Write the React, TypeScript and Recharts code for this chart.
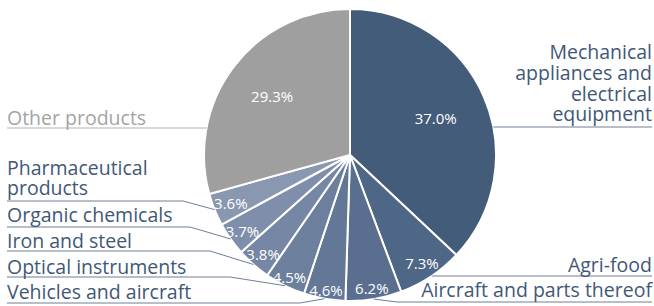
import React from 'react';
import { PieChart, Pie, Cell } from 'recharts';

const categories = [
  'Mechanical appliances and electrical equipment',
  'Agri-food',
  'Aircraft and parts thereof',
  'Vehicles and aircraft',
  'Optical instruments',
  'Iron and steel',
  'Organic chemicals',
  'Pharmaceutical products',
  'Other products',
];

const shares = [37.0, 7.3, 6.2, 4.6, 4.5, 3.8, 3.7, 3.6, 29.3];

const SLICE_COLORS = [
  '#435c7a', '#4f6787', '#5a6f8f', '#637897', '#6c809e',
  '#7687a5', '#7f8fab', '#8a97b1', '#9f9f9f',
];

const TEXT_BLUE = '#3f5877';
const LINE_BLUE = '#6f7f96';

// label placement per slice (same order as categories)
const LABEL_LAYOUT = [
  { lines: ['Mechanical', 'appliances and', 'electrical', 'equipment'], side: 'right', baselines: [59, 80, 101, 121], lineY: 127, elbowX: null, pctR: 0.64 },
  { lines: ['Agri-food'], side: 'right', baselines: [272], lineY: 276, elbowX: null, pctR: 0.89 },
  { lines: ['Aircraft and parts thereof'], side: 'right', baselines: [297], lineY: 302, elbowX: 397, pctR: 0.92 },
  { lines: ['Vehicles and aircraft'], side: 'left', baselines: [299], lineY: 303, elbowX: 300, pctR: 0.94 },
  { lines: ['Optical instruments'], side: 'left', baselines: [274], lineY: 277, elbowX: 230, pctR: 0.93 },
  { lines: ['Iron and steel'], side: 'left', baselines: [248], lineY: 251, elbowX: 210, pctR: 0.9 },
  { lines: ['Organic chemicals'], side: 'left', baselines: [222], lineY: 227, elbowX: 190, pctR: 0.9 },
  { lines: ['Pharmaceutical', 'products'], side: 'left', baselines: [175, 195], lineY: 201, elbowX: 183, pctR: 0.88 },
  { lines: ['Other products'], side: 'left', baselines: [125], lineY: 128, elbowX: null, pctR: 0.67, grey: true },
];

const data = categories.map((name, i) => ({ name, value: shares[i] }));

const RAD = Math.PI / 180;
const FONT = '"Open Sans", sans-serif';

const renderLabel = (props: any) => {
  const { cx, cy, midAngle, outerRadius, index, value } = props;
  const lay = LABEL_LAYOUT[index];
  const pr = outerRadius * lay.pctR;
  const px = cx + pr * Math.cos(-midAngle * RAD);
  const py = cy + pr * Math.sin(-midAngle * RAD);
  const ex = cx + outerRadius * Math.cos(-midAngle * RAD);
  const ey = cy + outerRadius * Math.sin(-midAngle * RAD);

  const textX = lay.side === 'right' ? 652 : 7;
  let points: string;
  if (lay.elbowX === null) {
    const dy = lay.lineY - cy;
    const dx = Math.sqrt(Math.max(outerRadius * outerRadius - dy * dy, 0));
    const xEdge = lay.side === 'right' ? cx + dx : cx - dx;
    points = `${textX},${lay.lineY} ${xEdge},${lay.lineY}`;
  } else {
    points = `${textX},${lay.lineY} ${lay.elbowX},${lay.lineY} ${ex},${ey}`;
  }
  const txtColor = lay.grey ? '#a4a4a4' : TEXT_BLUE;
  const lineColor = lay.grey ? '#b3b3b3' : LINE_BLUE;

  return (
    <g key={`lbl-${index}`}>
      <polyline points={points} fill="none" stroke={lineColor} strokeWidth={1} />
      <text
        textAnchor={lay.side === 'right' ? 'end' : 'start'}
        fill={txtColor}
        fontSize={19.5}
        fontFamily={FONT}
      >
        {lay.lines.map((t, j) => (
          <tspan key={j} x={textX} y={lay.baselines[j]}>
            {t}
          </tspan>
        ))}
      </text>
      <text
        x={px}
        y={py}
        textAnchor="middle"
        dominantBaseline="central"
        fill="#ffffff"
        fontSize={15}
        fontFamily={FONT}
      >
        {`${Number(value).toFixed(1)}%`}
      </text>
    </g>
  );
};

export default function App() {
  return (
    <div style={{ position: 'absolute', left: 0, top: 0, width: 654, height: 306, background: '#fff' }}>
      <PieChart width={654} height={306} margin={{ top: 0, right: 0, bottom: 0, left: 0 }}>
        <Pie
          data={data}
          dataKey="value"
          nameKey="name"
          cx={350}
          cy={155}
          outerRadius={146}
          startAngle={90}
          endAngle={-270}
          stroke="#ffffff"
          strokeWidth={2}
          label={renderLabel}
          labelLine={false}
          isAnimationActive={false}
        >
          {data.map((d, i) => (
            <Cell key={`cell-${d.name}`} fill={SLICE_COLORS[i]} />
          ))}
        </Pie>
      </PieChart>
    </div>
  );
}
